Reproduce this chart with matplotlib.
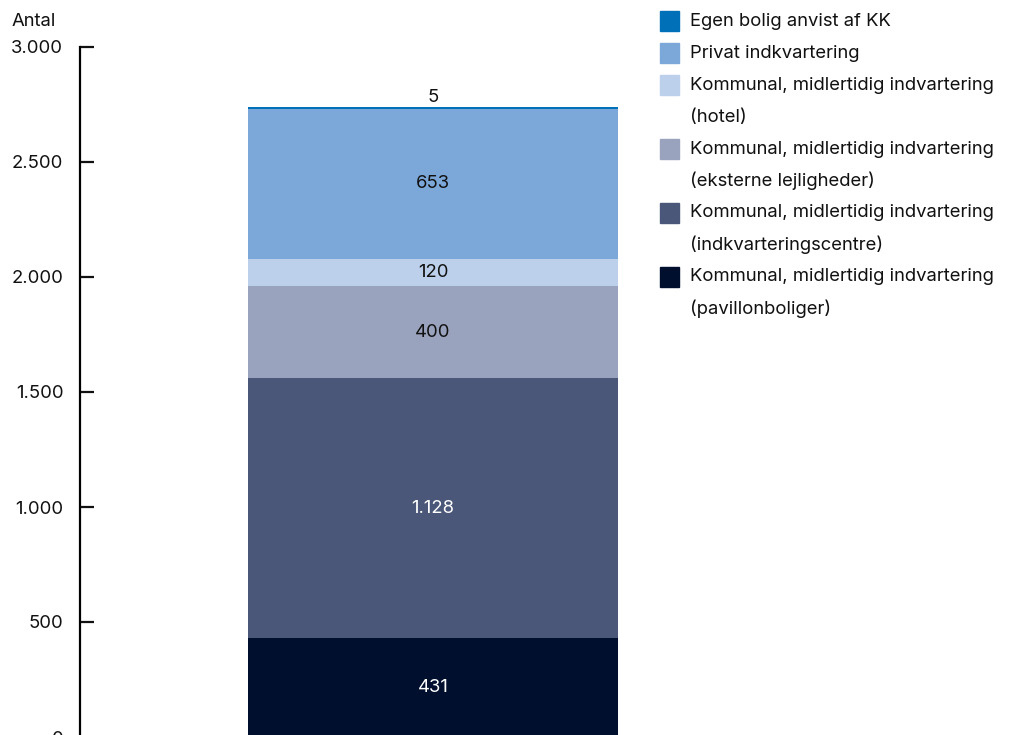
import matplotlib
matplotlib.use("Agg")
import matplotlib.pyplot as plt
from matplotlib.patches import Rectangle

plt.rcParams['font.family'] = ['Inter', 'DejaVu Sans']

categories = ["Egen bolig anvist af KK",
              "Privat indkvartering",
              "Kommunal, midlertidig indvartering\n(hotel)",
              "Kommunal, midlertidig indvartering\n(eksterne lejligheder)",
              "Kommunal, midlertidig indvartering\n(indkvarteringscentre)",
              "Kommunal, midlertidig indvartering\n(pavillonboliger)"]
values = [5, 653, 120, 400, 1128, 431]
colors = ["#0070b8", "#7ba7d9", "#bcd0ec", "#9aa3bd", "#4a5779", "#000f2e"]
text_colors = ["#111111", "#111111", "#111111", "#111111", "white", "white"]
yticks = [0, 500, 1000, 1500, 2000, 2500, 3000]
ytick_labels = ["0", "500", "1.000", "1.500", "2.000", "2.500", "3.000"]

def fmt(v):
    return f"{v:,}".replace(",", ".")

FS = 13.3
W, H = 1020, 735
fig = plt.figure(figsize=(W/100, H/100), dpi=100)
ax = fig.add_axes([80/W, (H-737)/H, 560/W, 690/H])

bottom = 0
order = list(range(len(values)))[::-1]  # stack from pavillon upward
for i in order:
    v = values[i]
    ax.bar(0, v, bottom=bottom, width=1.0, color=colors[i], edgecolor='none')
    mid = bottom + v/2
    if v >= 50:
        ax.text(0, mid, fmt(v), ha='center', va='center', fontsize=FS,
                color=text_colors[i])
    else:
        ax.annotate(fmt(v), (0, bottom + v), xytext=(0, 1), textcoords='offset points',
                    ha='center', va='bottom', fontsize=FS, color='#111111')
    bottom += v

ax.set_xlim(-0.5 - 168/370, -0.5 - 168/370 + 560/370)
ax.set_ylim(0, 3000)
ax.set_yticks(yticks)
ax.set_yticklabels(ytick_labels)
ax.set_xticks([])
for s in ['top', 'right', 'bottom']:
    ax.spines[s].set_visible(False)
ax.spines['left'].set_linewidth(1.6)
ax.tick_params(axis='y', direction='in', length=10, width=1.6, pad=12,
               labelsize=FS, colors='#111111')
ax.set_facecolor('none')
fig.text(12/W, 1 - 21/H, "Antal", fontsize=FS, ha='left', va='center', color='#111111')

# legend
lx, ly0 = 660, 21
y = ly0
for lab, col in zip(categories, colors):
    fig.patches.append(Rectangle((lx/W, 1 - (y+9.5)/H), 19/W, 19/H,
                                 transform=fig.transFigure, color=col, figure=fig))
    lines = lab.split("\n")
    for k, line in enumerate(lines):
        fig.text(690/W, 1 - (y + 32*k)/H, line, fontsize=FS, ha='left', va='center',
                 color='#111111')
    y += 32*len(lines)

fig.savefig("out.png", dpi=100)
